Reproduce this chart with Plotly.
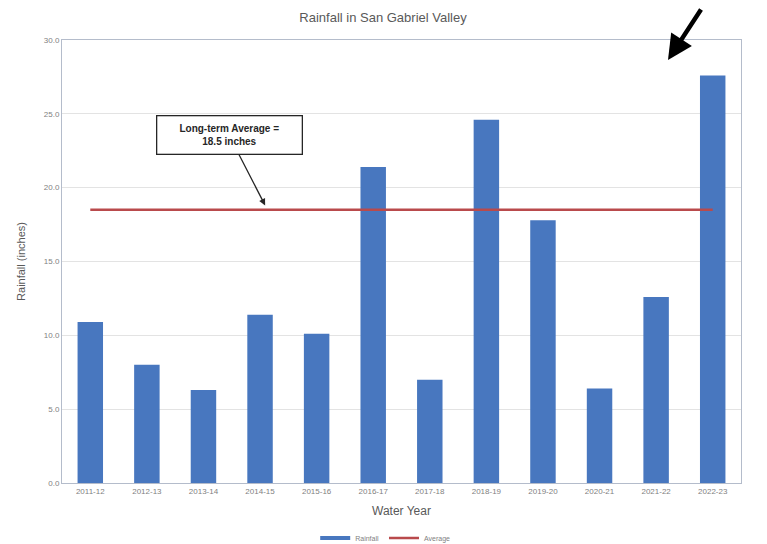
import plotly.graph_objects as go

years = ["2011-12", "2012-13", "2013-14", "2014-15", "2015-16", "2016-17",
         "2017-18", "2018-19", "2019-20", "2020-21", "2021-22", "2022-23"]
rainfall = [10.9, 8.0, 6.3, 11.4, 10.1, 21.4, 7.0, 24.6, 17.8, 6.4, 12.6, 27.6]
average = [18.5] * len(years)
y_ticks = [0, 5, 10, 15, 20, 25, 30]

BLUE = "#4877bf"
RED = "#b94a4c"

fig = go.Figure()
fig.add_trace(go.Bar(x=years, y=rainfall, name="Rainfall", showlegend=False,
                     marker=dict(color=BLUE, line=dict(width=0)),
                     width=0.45))
# legend-only entry so the Rainfall key is drawn as a short thick bar like the original
fig.add_trace(go.Scatter(x=[None], y=[None], name="Rainfall", mode="lines",
                         line=dict(color=BLUE, width=4)))
fig.add_trace(go.Scatter(x=years, y=average, name="Average", mode="lines",
                         line=dict(color=RED, width=2.5)))

# page has an 8px body margin, so the figure is 8px smaller and margins shifted
fig.update_layout(
    width=759, height=536,
    margin=dict(l=54, r=26, t=32, b=61, autoexpand=False),
    paper_bgcolor="white", plot_bgcolor="white",
    font=dict(family="Liberation Sans, Arial, sans-serif", color="#595959"),
    title=dict(text="Rainfall in San Gabriel Valley", x=(383 - 62) / 679, xref="paper",
               xanchor="center", y=(536 - 9) / 536, yanchor="middle",
               font=dict(size=13, color="#595959")),
    showlegend=True,
    legend=dict(orientation="h", x=0.476, xanchor="center", y=-0.124, yanchor="middle",
                font=dict(size=7, color="#7f7f7f"), bgcolor="rgba(0,0,0,0)",
                itemwidth=30),
    bargap=0.55,
)
fig.update_xaxes(type="category", automargin=False,
                 showgrid=False, showline=True, linecolor="#b4bccb", mirror=True,
                 tickfont=dict(size=8, color="#7f7f7f"), ticks="",
                 title=dict(text="Water Year", font=dict(size=12, color="#595959"), standoff=12))
fig.update_yaxes(range=[0, 30], tickvals=y_ticks, tickformat=".1f", automargin=False,
                 showgrid=True, gridcolor="#e3e3e3", showline=True, linecolor="#b4bccb",
                 mirror=True, zeroline=False, ticks="",
                 tickfont=dict(size=8, color="#7f7f7f"),
                 title=dict(text="Rainfall (inches)", font=dict(size=11, color="#595959"), standoff=15))

# Callout box
fig.add_annotation(x=3.09, y=18.8, xref="x", yref="y",
                   text="<b>Long-term Average =<br>18.5 inches</b>",
                   showarrow=True, ax=-36, ay=-70, arrowhead=2, arrowsize=1,
                   arrowwidth=1.3, arrowcolor="#262626",
                   font=dict(size=10, color="#262626", family="Liberation Sans, Arial"),
                   bgcolor="white", bordercolor="#262626", borderwidth=1.3,
                   width=140, height=33, borderpad=2)

# Big black arrow at top right
fig.add_annotation(x=(668 - 62) / 679, y=(483 - 60) / 443, xref="paper", yref="paper",
                   text="", showarrow=True, ax=34, ay=-64, arrowhead=2, arrowsize=1.1,
                   arrowwidth=4.5, arrowcolor="black")

# Right edge strip from the screenshot crop
fig.add_shape(type="rect", xref="paper", yref="paper",
              x0=(762 - 62) / 679, x1=(767 - 62) / 679, y0=-61 / 443, y1=(483 - 20) / 443,
              fillcolor="#1f4e8c", line=dict(width=0), layer="above")
fig.add_shape(type="rect", xref="paper", yref="paper",
              x0=(762 - 62) / 679, x1=(767 - 62) / 679, y0=(483 - 378) / 443, y1=(483 - 300) / 443,
              fillcolor="#4f7fc2", line=dict(width=0), layer="above")

fig.write_html("out.html")
